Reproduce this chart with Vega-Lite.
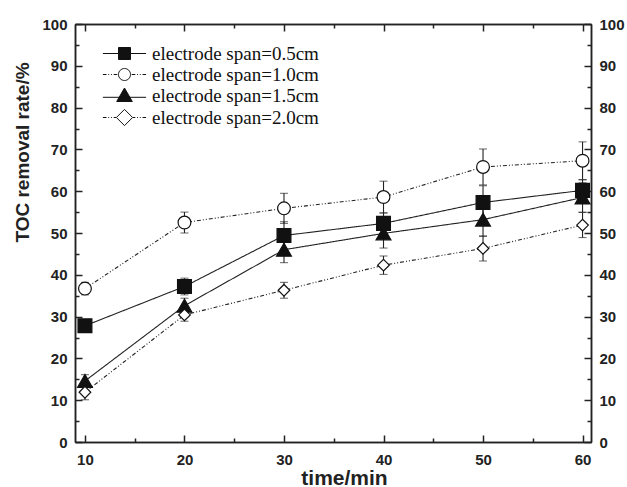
{
  "$schema": "https://vega.github.io/schema/vega-lite/v6.json",
  "width": 516,
  "height": 418,
  "autosize": {"type": "none"},
  "padding": {"left": 75, "top": 24, "right": 36, "bottom": 45},
  "background": "white",
  "config": {
    "view": {"stroke": null},
    "axis": {
      "grid": false,
      "domainColor": "#222",
      "domainWidth": 1.5,
      "tickColor": "#222",
      "tickWidth": 1.5,
      "labelFont": "Liberation Sans",
      "labelFontWeight": "bold",
      "labelFontSize": 15,
      "labelColor": "#222",
      "titleFont": "Liberation Sans",
      "titleFontWeight": "bold",
      "titleColor": "#222"
    }
  },
  "data": {
    "values": [
      {"series": "electrode span=0.5cm", "time": 10, "rate": 27.8, "err": 1.3},
      {"series": "electrode span=0.5cm", "time": 20, "rate": 37.2, "err": 2.0},
      {"series": "electrode span=0.5cm", "time": 30, "rate": 49.4, "err": 3.3},
      {"series": "electrode span=0.5cm", "time": 40, "rate": 52.3, "err": 2.5},
      {"series": "electrode span=0.5cm", "time": 50, "rate": 57.3, "err": 4.0},
      {"series": "electrode span=0.5cm", "time": 60, "rate": 60.2, "err": 2.5},
      {"series": "electrode span=1.0cm", "time": 10, "rate": 36.7, "err": 1.5},
      {"series": "electrode span=1.0cm", "time": 20, "rate": 52.5, "err": 2.5},
      {"series": "electrode span=1.0cm", "time": 30, "rate": 55.9, "err": 3.6},
      {"series": "electrode span=1.0cm", "time": 40, "rate": 58.6, "err": 3.8},
      {"series": "electrode span=1.0cm", "time": 50, "rate": 65.8, "err": 4.3},
      {"series": "electrode span=1.0cm", "time": 60, "rate": 67.3, "err": 4.5},
      {"series": "electrode span=1.5cm", "time": 10, "rate": 14.6, "err": 1.5},
      {"series": "electrode span=1.5cm", "time": 20, "rate": 32.6, "err": 1.8},
      {"series": "electrode span=1.5cm", "time": 30, "rate": 46.0, "err": 3.1},
      {"series": "electrode span=1.5cm", "time": 40, "rate": 49.9, "err": 3.5},
      {"series": "electrode span=1.5cm", "time": 50, "rate": 53.2, "err": 4.0},
      {"series": "electrode span=1.5cm", "time": 60, "rate": 58.5, "err": 3.5},
      {"series": "electrode span=2.0cm", "time": 10, "rate": 11.9, "err": 1.8},
      {"series": "electrode span=2.0cm", "time": 20, "rate": 30.4, "err": 1.5},
      {"series": "electrode span=2.0cm", "time": 30, "rate": 36.3, "err": 1.9},
      {"series": "electrode span=2.0cm", "time": 40, "rate": 42.3, "err": 2.2},
      {"series": "electrode span=2.0cm", "time": 50, "rate": 46.3, "err": 3.0},
      {"series": "electrode span=2.0cm", "time": 60, "rate": 51.9, "err": 3.0}
    ]
  },
  "resolve": {"axis": {"x": "independent", "y": "independent"}, "scale": {"shape": "independent", "fill": "independent"}},
  "layer": [
    {
      "mark": {"type": "line", "color": "#222", "strokeWidth": 1.1},
      "encoding": {
        "x": {"field": "time", "type": "quantitative", "scale": {"domain": [9, 60.85], "nice": false, "zero": false},
          "axis": {"orient": "bottom", "values": [10, 20, 30, 40, 50, 60], "tickSize": -7, "labelPadding": 17, "title": "time/min", "titleFontSize": 21, "titleX": 269, "titleY": 42, "titleBaseline": "alphabetic", "titleAlign": "center"}},
        "y": {"field": "rate", "type": "quantitative", "scale": {"domain": [0, 100], "nice": false},
          "axis": {"orient": "left", "values": [0, 10, 20, 30, 40, 50, 60, 70, 80, 90, 100], "tickSize": -7, "labelPadding": 15, "title": "TOC removal rate/%", "titleFontSize": 19, "titleX": -47, "titleY": 128, "titleAngle": 270, "titleBaseline": "alphabetic", "titleAlign": "center"}},
        "detail": {"field": "series", "type": "nominal"},
        "strokeDash": {"field": "series", "type": "nominal", "legend": null,
          "scale": {"domain": ["electrode span=2.0cm", "electrode span=0.5cm", "electrode span=1.0cm", "electrode span=1.5cm"],
            "range": [[4, 2, 1, 2, 1, 2], [1, 0], [4, 2, 1, 2, 1, 2], [1, 0]]}}
      }
    },
    {
      "mark": {"type": "errorbar", "ticks": {"size": 8, "color": "#222", "strokeWidth": 1.1}, "rule": {"color": "#222", "strokeWidth": 1.1}},
      "encoding": {
        "x": {"field": "time", "type": "quantitative", "axis": null},
        "y": {"field": "rate", "type": "quantitative", "axis": null},
        "yError": {"field": "err"},
        "detail": {"field": "series", "type": "nominal"}
      }
    },
    {
      "mark": {"type": "point", "filled": true, "stroke": "#111", "strokeWidth": 1.2, "opacity": 1},
      "encoding": {
        "x": {"field": "time", "type": "quantitative",
          "axis": {"orient": "top", "values": [10, 20, 30, 40, 50, 60], "tickSize": -7, "labels": false, "title": null}},
        "y": {"field": "rate", "type": "quantitative",
          "axis": {"orient": "right", "values": [0, 10, 20, 30, 40, 50, 60, 70, 80, 90, 100], "tickSize": -7, "labelPadding": 15, "title": null}},
        "shape": {"field": "series", "type": "nominal", "legend": null,
          "scale": {"domain": ["electrode span=1.0cm", "electrode span=2.0cm", "electrode span=0.5cm", "electrode span=1.5cm"],
            "range": ["circle", "diamond", "square", "triangle-up"]}},
        "fill": {"field": "series", "type": "nominal", "legend": null,
          "scale": {"domain": ["electrode span=1.0cm", "electrode span=0.5cm", "electrode span=1.5cm", "electrode span=2.0cm"],
            "range": ["white", "#111", "#111", "white"]}},
        "size": {"field": "series", "type": "nominal", "legend": null,
          "scale": {"domain": ["electrode span=1.5cm", "electrode span=0.5cm", "electrode span=1.0cm", "electrode span=2.0cm"],
            "range": [220, 135, 150, 260]}}
      }
    },
    {
      "transform": [{"filter": "false"}],
      "mark": {"type": "point", "filled": true, "stroke": "#111", "strokeWidth": 1},
      "encoding": {
        "x": {"field": "time", "type": "quantitative", "axis": null},
        "y": {"field": "rate", "type": "quantitative", "axis": null},
        "shape": {"field": "series", "type": "nominal",
          "scale": {"domain": ["electrode span=0.5cm", "electrode span=1.0cm", "electrode span=1.5cm", "electrode span=2.0cm"],
            "range": [
              "M-3.6,0H3.6M-1,-1H1V1H-1Z",
              "M-3.6,0H-3M-2.7,0H-2.55M-2.25,0H-2.1M-1.8,0H-1.2M1.2,0H1.8M2.1,0H2.25M2.55,0H2.7M3,0H3.6M1,0A1,1,0,1,1,-1,0A1,1,0,1,1,1,0Z",
              "M-3.6,0.3H3.6M0,-1.25L1.3,1L-1.3,1Z",
              "M-3.6,0H-3M-2.7,0H-2.55M-2.25,0H-2.1M-1.8,0H-1.4M1.4,0H1.8M2.1,0H2.25M2.55,0H2.7M3,0H3.6M-1.35,0L0,-1.35L1.35,0L0,1.35Z"
            ]},
          "legend": {
            "title": null, "orient": "none", "legendX": 40, "legendY": 20, "padding": 0,
            "symbolSize": 144, "symbolStrokeWidth": 1, "symbolOpacity": 1,
            "labelFont": "Liberation Serif", "labelFontSize": 19, "labelColor": "#111",
            "labelOffset": 18, "labelLimit": 400, "rowPadding": 1
          }},
        "fill": {"field": "series", "type": "nominal",
          "scale": {"domain": ["electrode span=0.5cm", "electrode span=1.0cm", "electrode span=1.5cm", "electrode span=2.0cm"],
            "range": ["#111", "white", "#111", "white"]},
          "legend": {
            "title": null, "orient": "none", "legendX": 40, "legendY": 20, "padding": 0,
            "symbolSize": 144, "symbolStrokeWidth": 1, "symbolOpacity": 1,
            "labelFont": "Liberation Serif", "labelFontSize": 19, "labelColor": "#111",
            "labelOffset": 18, "labelLimit": 400, "rowPadding": 1
          }}
      }
    },
    {
      "mark": {"type": "point", "opacity": 0},
      "encoding": {
        "x": {"field": "time", "type": "quantitative",
          "axis": {"orient": "bottom", "values": [15, 25, 35, 45, 55], "tickSize": -4, "labels": false, "title": null}},
        "y": {"field": "rate", "type": "quantitative",
          "axis": {"orient": "left", "values": [5, 15, 25, 35, 45, 55, 65, 75, 85, 95], "tickSize": -4, "labels": false, "title": null}}
      }
    },
    {
      "mark": {"type": "point", "opacity": 0},
      "encoding": {
        "x": {"field": "time", "type": "quantitative",
          "axis": {"orient": "top", "values": [15, 25, 35, 45, 55], "tickSize": -4, "labels": false, "title": null}},
        "y": {"field": "rate", "type": "quantitative",
          "axis": {"orient": "right", "values": [5, 15, 25, 35, 45, 55, 65, 75, 85, 95], "tickSize": -4, "labels": false, "title": null}}
      }
    }
  ]
}
